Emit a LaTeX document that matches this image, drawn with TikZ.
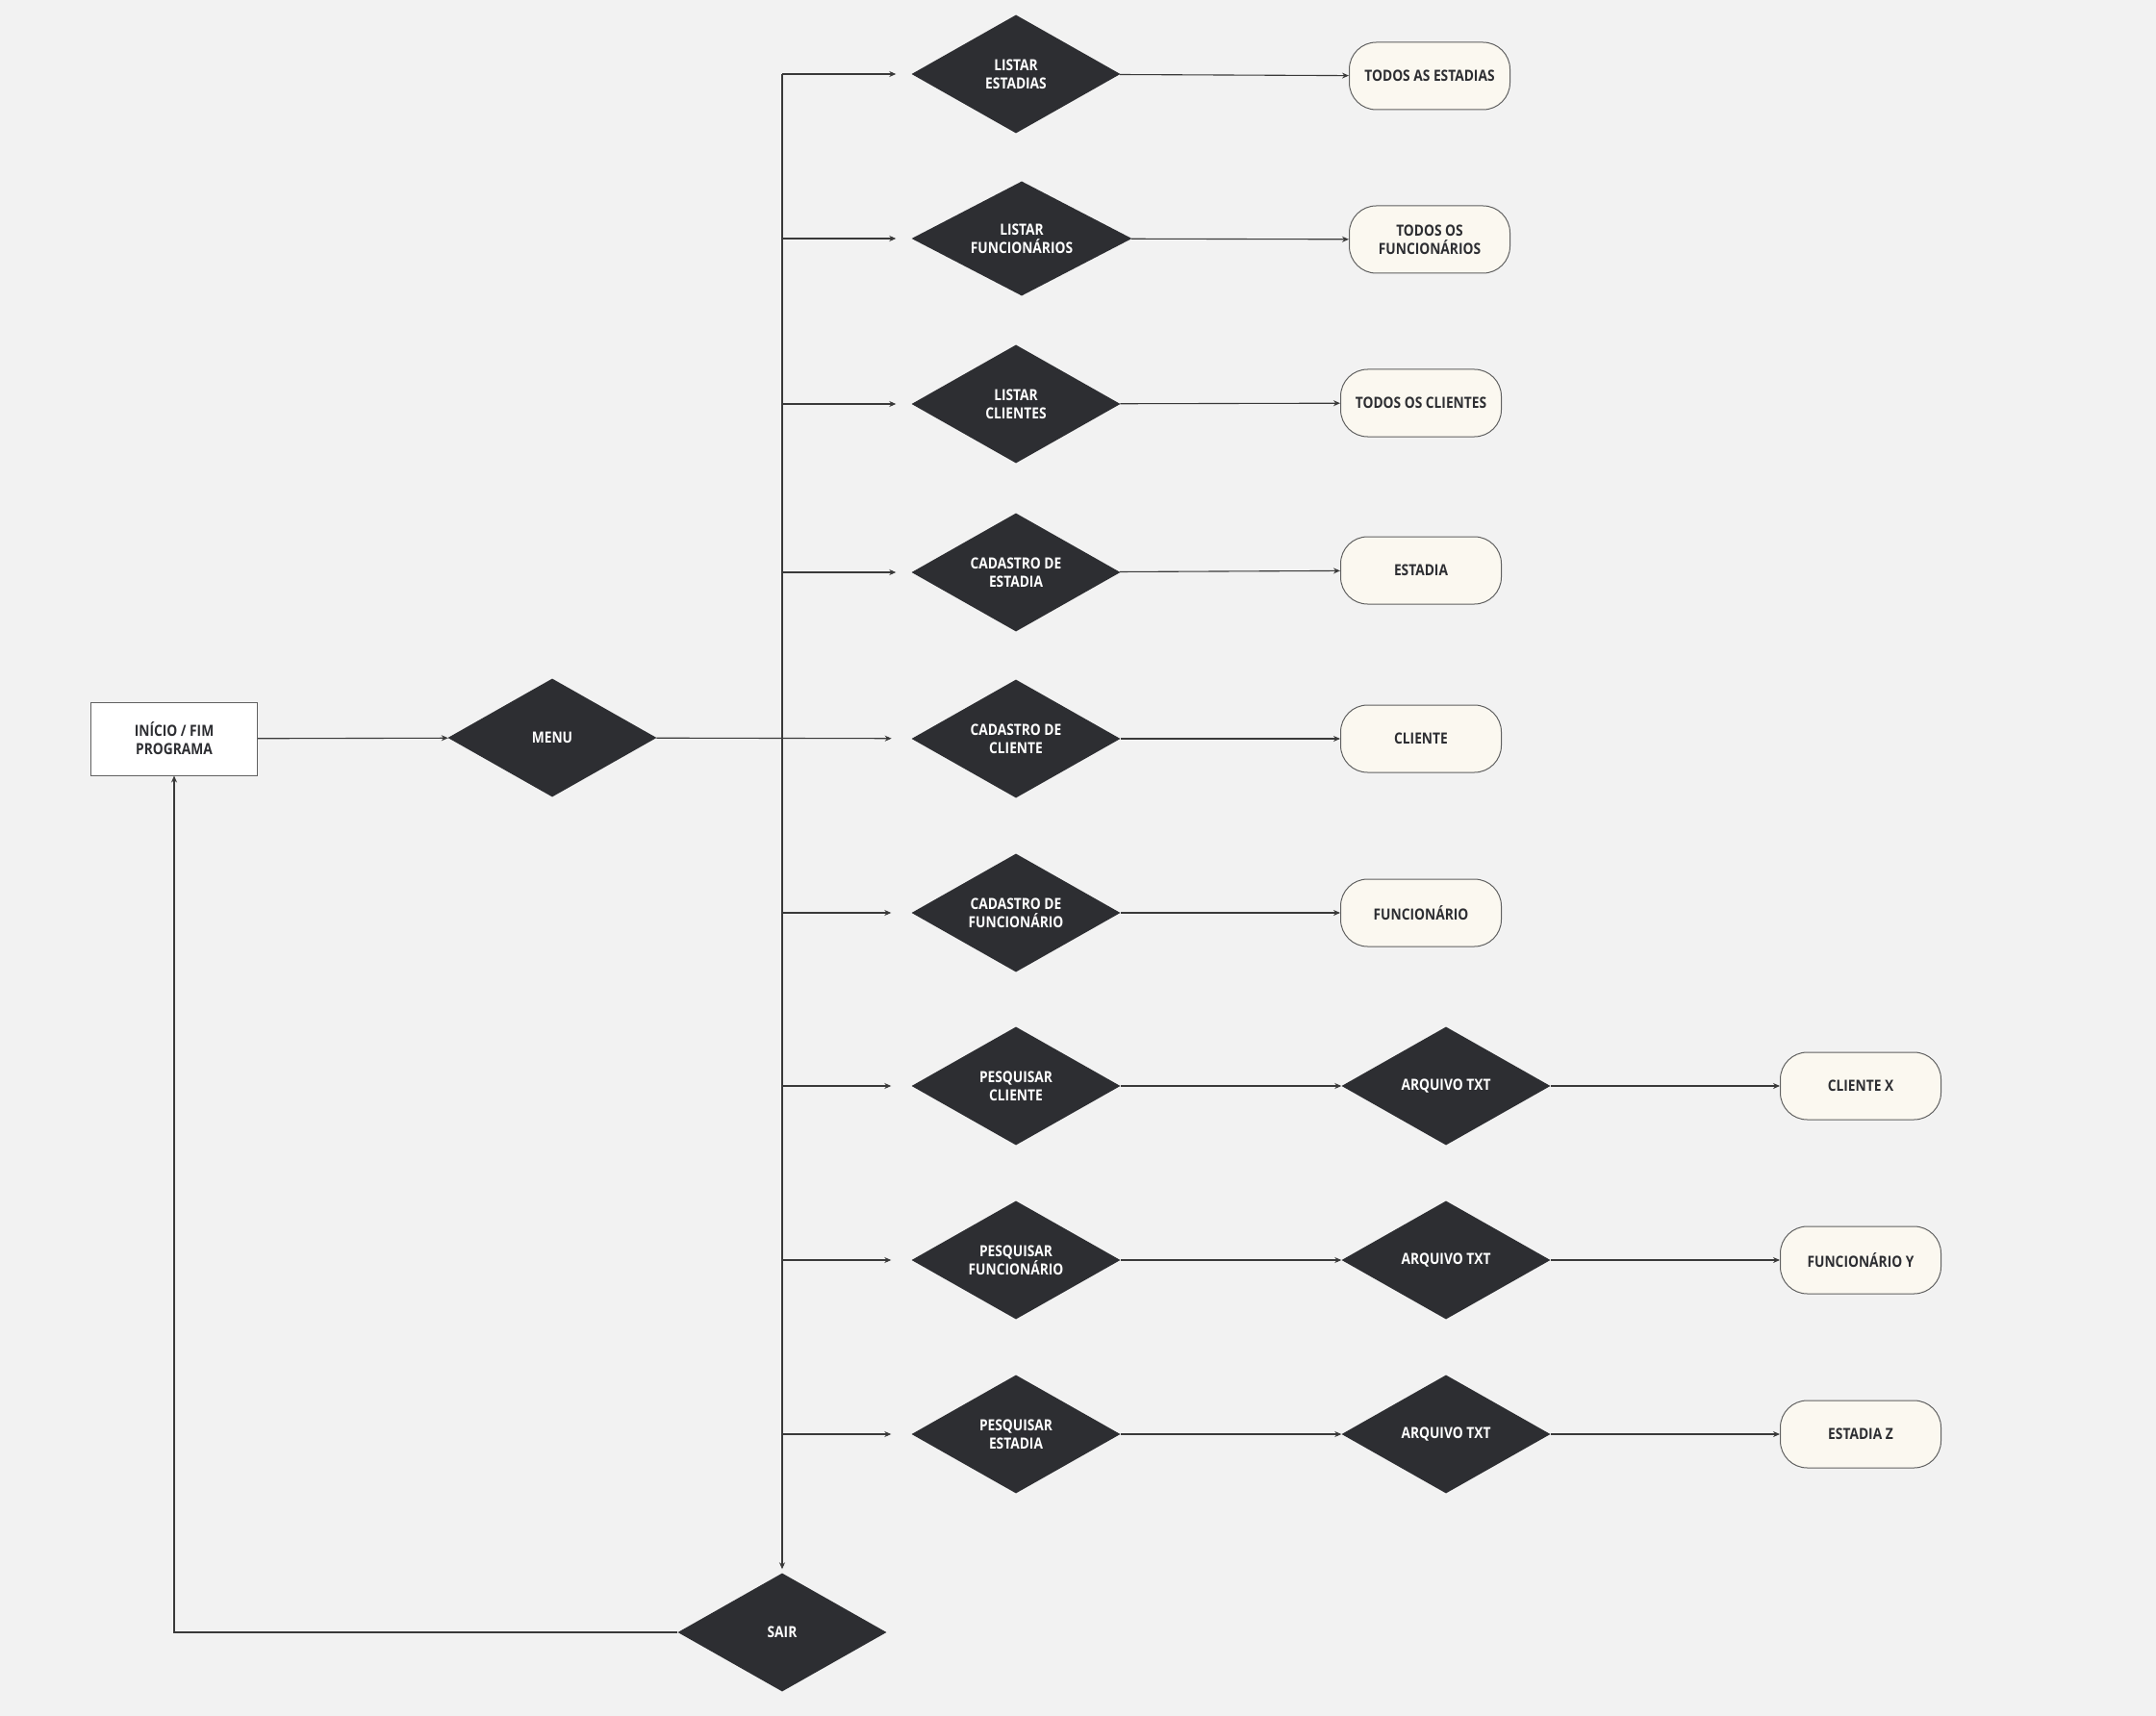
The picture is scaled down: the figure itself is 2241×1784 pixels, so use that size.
\documentclass[tikz,border=0pt]{standalone}
\usepackage{fontspec}
\setmainfont{Open Sans}[FakeStretch=0.86]
\usetikzlibrary{shapes.geometric,arrows.meta}
\definecolor{bgcol}{HTML}{F2F2F2}
\definecolor{darkfill}{HTML}{2D2E32}
\definecolor{cream}{HTML}{FBF8F0}
\definecolor{linecol}{HTML}{3A3A3A}
\tikzset{
  decision/.style={diamond, fill=darkfill, text=white, inner sep=0pt, aspect=1.76,
    minimum width=217pt, minimum height=123pt, align=center,
    font=\fontsize{16}{19}\selectfont\bfseries},
  terminal/.style={rectangle, rounded corners=28pt, draw=linecol!80, fill=cream,
    line width=1pt, minimum width=167pt, minimum height=70pt, align=center,
    text=darkfill, font=\fontsize{16}{19}\selectfont\bfseries},
  startbox/.style={rectangle, draw=linecol!80, fill=white, line width=1pt,
    minimum width=173pt, minimum height=76pt, align=center, text=darkfill,
    font=\fontsize{16}{19}\selectfont\bfseries},
  flow/.style={draw=linecol, line width=1.1pt, -{Stealth[length=7pt,width=6pt]}}
}
\begin{document}
\begin{tikzpicture}[x=1pt, y=-1pt]
  \fill[bgcol] (0,0) rectangle (2241,1784);
  \draw
    (181,768) node[startbox] (inicio){INÍCIO / FIM\\PROGRAMA}
    (574,767) node[decision] (menu){MENU}
    (813,1697) node[decision] (sair){SAIR}
    (1056,77) node[decision] (d1){LISTAR\\ESTADIAS}
    (1062,248) node[decision, minimum width=229pt, minimum height=119pt] (d2){LISTAR\\FUNCIONÁRIOS}
    (1056,420) node[decision] (d3){LISTAR\\CLIENTES}
    (1056,595) node[decision] (d4){CADASTRO DE\\ESTADIA}
    (1056,768) node[decision] (d5){CADASTRO DE\\CLIENTE}
    (1056,949) node[decision] (d6){CADASTRO DE\\FUNCIONÁRIO}
    (1056,1129) node[decision] (d7){PESQUISAR\\CLIENTE}
    (1056,1310) node[decision] (d8){PESQUISAR\\FUNCIONÁRIO}
    (1056,1491) node[decision] (d9){PESQUISAR\\ESTADIA}
    (1503,1129) node[decision] (a7){ARQUIVO TXT}
    (1503,1310) node[decision] (a8){ARQUIVO TXT}
    (1503,1491) node[decision] (a9){ARQUIVO TXT}
    (1486,79) node[terminal] (t1){TODOS AS ESTADIAS}
    (1486,249) node[terminal] (t2){TODOS OS\\FUNCIONÁRIOS}
    (1477,419) node[terminal] (t3){TODOS OS CLIENTES}
    (1477,593) node[terminal] (t4){ESTADIA}
    (1477,768) node[terminal] (t5){CLIENTE}
    (1477,949) node[terminal] (t6){FUNCIONÁRIO}
    (1934,1129) node[terminal] (t7){CLIENTE X}
    (1934,1310) node[terminal] (t8){FUNCIONÁRIO Y}
    (1934,1491) node[terminal] (t9){ESTADIA Z};
  \coordinate (bus) at (813,77);
  \begin{scope}[flow]
    \draw (inicio) to (menu);
    \draw[shorten >=21pt] (menu) to (d5);
    \draw[shorten >=4pt] (bus) to (sair.north);
    \draw[shorten >=16pt] (bus) to (d1);
    \draw[shorten >=16pt] (d2.west -| bus) to (d2.west);
    \draw[shorten >=16pt] (d3.west -| bus) to (d3.west);
    \draw[shorten >=16pt] (d4.west -| bus) to (d4.west);
    \draw[shorten >=21pt] (d6.west -| bus) to (d6.west);
    \draw[shorten >=21pt] (d7.west -| bus) to (d7.west);
    \draw[shorten >=21pt] (d8.west -| bus) to (d8.west);
    \draw[shorten >=21pt] (d9.west -| bus) to (d9.west);
    \draw (d1) to (t1);
    \draw (d2) to (t2);
    \draw (d3) to (t3);
    \draw (d4) to (t4);
    \draw (d5) to (t5);
    \draw (d6) to (t6);
    \draw (d7) to (a7);
    \draw (d8) to (a8);
    \draw (d9) to (a9);
    \draw (a7) to (t7);
    \draw (a8) to (t8);
    \draw (a9) to (t9);
    \draw (sair.west) -| (inicio.south);
  \end{scope}
\end{tikzpicture}
\end{document}
